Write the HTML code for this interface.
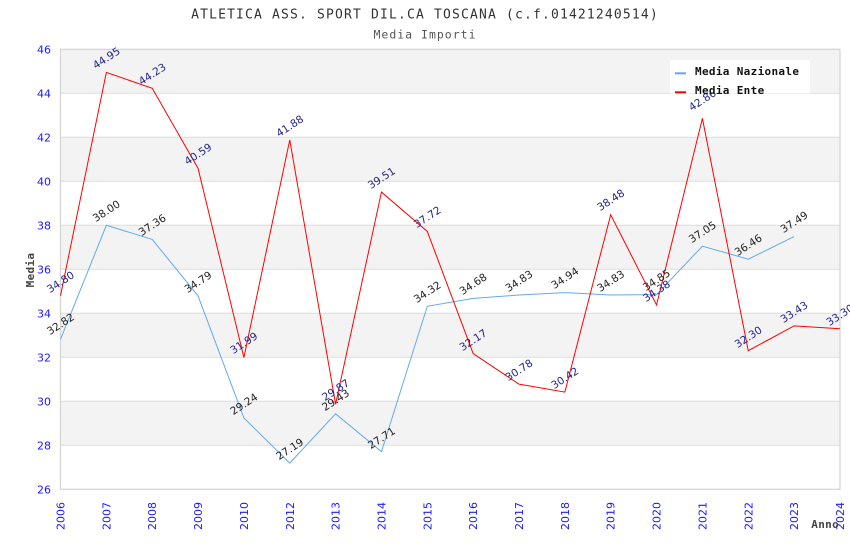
<!DOCTYPE html>
<html><head><meta charset="utf-8"><style>
html,body{margin:0;padding:0;background:#fff;}
svg{display:block;}
.t{font-family:"DejaVu Sans","Liberation Sans",sans-serif;font-size:11px;fill:#1a1aff;}
.m{font-family:"DejaVu Sans Mono","Liberation Mono",monospace;}
.ln{font-family:"DejaVu Sans","Liberation Sans",sans-serif;font-size:10.5px;}
</style></head><body>
<svg width="850" height="550" viewBox="0 0 850 550" xmlns="http://www.w3.org/2000/svg">
<rect x="0" y="0" width="850" height="550" fill="#fff"/>
<text class="m" x="425" y="18.5" text-anchor="middle" font-size="13" letter-spacing="1.17" fill="#333">ATLETICA ASS. SPORT DIL.CA TOSCANA (c.f.01421240514)</text>
<text class="m" x="425" y="38.5" text-anchor="middle" font-size="11.5" letter-spacing="1" fill="#555">Media Importi</text>
<!-- bands -->
<g fill="#f3f3f3">
<rect x="60.5" y="49.3" width="779.5" height="44"/>
<rect x="60.5" y="137.3" width="779.5" height="44"/>
<rect x="60.5" y="225.3" width="779.5" height="44"/>
<rect x="60.5" y="313.3" width="779.5" height="44"/>
<rect x="60.5" y="401.3" width="779.5" height="44"/>
</g>
<g stroke="#dddddd" stroke-width="1">
<line x1="60.5" x2="840" y1="93.3" y2="93.3"/>
<line x1="60.5" x2="840" y1="137.3" y2="137.3"/>
<line x1="60.5" x2="840" y1="181.3" y2="181.3"/>
<line x1="60.5" x2="840" y1="225.3" y2="225.3"/>
<line x1="60.5" x2="840" y1="269.3" y2="269.3"/>
<line x1="60.5" x2="840" y1="313.3" y2="313.3"/>
<line x1="60.5" x2="840" y1="357.3" y2="357.3"/>
<line x1="60.5" x2="840" y1="401.3" y2="401.3"/>
<line x1="60.5" x2="840" y1="445.3" y2="445.3"/>
</g>
<rect x="60.5" y="49.3" width="779.5" height="440" fill="none" stroke="#d4d4d4" stroke-width="1.2"/>
<!-- y ticks -->
<g class="t" text-anchor="end">
<text x="51" y="53.3">46</text>
<text x="51" y="97.3">44</text>
<text x="51" y="141.3">42</text>
<text x="51" y="185.3">40</text>
<text x="51" y="229.3">38</text>
<text x="51" y="273.3">36</text>
<text x="51" y="317.3">34</text>
<text x="51" y="361.3">32</text>
<text x="51" y="405.3">30</text>
<text x="51" y="449.3">28</text>
<text x="51" y="493.3">26</text>
</g>
<!-- x ticks -->
<g class="t" text-anchor="end">
<text transform="translate(64.5,502) rotate(-90)">2006</text>
<text transform="translate(110.35,502) rotate(-90)">2007</text>
<text transform="translate(156.2,502) rotate(-90)">2008</text>
<text transform="translate(202.05,502) rotate(-90)">2009</text>
<text transform="translate(247.9,502) rotate(-90)">2010</text>
<text transform="translate(293.75,502) rotate(-90)">2012</text>
<text transform="translate(339.6,502) rotate(-90)">2013</text>
<text transform="translate(385.45,502) rotate(-90)">2014</text>
<text transform="translate(431.3,502) rotate(-90)">2015</text>
<text transform="translate(477.15,502) rotate(-90)">2016</text>
<text transform="translate(523,502) rotate(-90)">2017</text>
<text transform="translate(568.85,502) rotate(-90)">2018</text>
<text transform="translate(614.7,502) rotate(-90)">2019</text>
<text transform="translate(660.55,502) rotate(-90)">2020</text>
<text transform="translate(706.4,502) rotate(-90)">2021</text>
<text transform="translate(752.25,502) rotate(-90)">2022</text>
<text transform="translate(798.1,502) rotate(-90)">2023</text>
<text transform="translate(843.95,502) rotate(-90)">2024</text>
</g>
<text class="m" x="839" y="528" text-anchor="end" font-size="11" font-weight="bold" letter-spacing="0.3" fill="#444">Anno</text>
<text class="m" transform="translate(34,270) rotate(-90)" text-anchor="middle" font-size="11" font-weight="bold" letter-spacing="0.3" fill="#444">Media</text>
<!-- series -->
<polyline fill="none" stroke="#62aaf0" stroke-width="1" points="60.5,339.26 106.35,225.3 152.2,239.38 198.05,295.92 243.9,418.02 289.75,463.12 335.6,413.84 381.45,451.68 427.3,306.26 473.15,298.34 519,295.04 564.85,292.62 610.7,295.04 656.55,294.6 702.4,246.2 748.25,259.18 794.1,236.52"/>
<polyline fill="none" stroke="#ff0000" stroke-width="1" points="60.5,295.7 106.35,72.4 152.2,88.24 198.05,168.32 243.9,357.52 289.75,139.94 335.6,404.16 381.45,192.08 427.3,231.46 473.15,353.56 519,384.14 564.85,392.06 610.7,214.74 656.55,304.94 702.4,118.38 748.25,350.7 794.1,325.84 839.95,328.7"/>
<!-- labels Nazionale -->
<g class="ln" fill="#222" text-anchor="middle">
<text transform="translate(60.5,324) rotate(-33)" dy="0.35em">32.82</text>
<text transform="translate(106.35,211) rotate(-33)" dy="0.35em">38.00</text>
<text transform="translate(152.2,225) rotate(-33)" dy="0.35em">37.36</text>
<text transform="translate(198.05,282) rotate(-33)" dy="0.35em">34.79</text>
<text transform="translate(243.9,404) rotate(-33)" dy="0.35em">29.24</text>
<text transform="translate(289.75,449) rotate(-33)" dy="0.35em">27.19</text>
<text transform="translate(335.6,400) rotate(-33)" dy="0.35em">29.43</text>
<text transform="translate(381.45,438) rotate(-33)" dy="0.35em">27.71</text>
<text transform="translate(427.3,292) rotate(-33)" dy="0.35em">34.32</text>
<text transform="translate(473.15,284) rotate(-33)" dy="0.35em">34.68</text>
<text transform="translate(519,281) rotate(-33)" dy="0.35em">34.83</text>
<text transform="translate(564.85,278) rotate(-33)" dy="0.35em">34.94</text>
<text transform="translate(610.7,281) rotate(-33)" dy="0.35em">34.83</text>
<text transform="translate(656.55,280) rotate(-33)" dy="0.35em">34.85</text>
<text transform="translate(702.4,232) rotate(-33)" dy="0.35em">37.05</text>
<text transform="translate(748.25,245) rotate(-33)" dy="0.35em">36.46</text>
<text transform="translate(794.1,222) rotate(-33)" dy="0.35em">37.49</text>
</g>
<!-- labels Ente -->
<g class="ln" fill="#24248c" text-anchor="middle">
<text transform="translate(60.5,282) rotate(-33)" dy="0.35em">34.80</text>
<text transform="translate(106.35,58) rotate(-33)" dy="0.35em">44.95</text>
<text transform="translate(152.2,74) rotate(-33)" dy="0.35em">44.23</text>
<text transform="translate(198.05,154) rotate(-33)" dy="0.35em">40.59</text>
<text transform="translate(243.9,343) rotate(-33)" dy="0.35em">31.99</text>
<text transform="translate(289.75,126) rotate(-33)" dy="0.35em">41.88</text>
<text transform="translate(335.6,390) rotate(-33)" dy="0.35em">29.87</text>
<text transform="translate(381.45,178) rotate(-33)" dy="0.35em">39.51</text>
<text transform="translate(427.3,217) rotate(-33)" dy="0.35em">37.72</text>
<text transform="translate(473.15,340) rotate(-33)" dy="0.35em">32.17</text>
<text transform="translate(519,370) rotate(-33)" dy="0.35em">30.78</text>
<text transform="translate(564.85,378) rotate(-33)" dy="0.35em">30.42</text>
<text transform="translate(610.7,200) rotate(-33)" dy="0.35em">38.48</text>
<text transform="translate(656.55,291) rotate(-33)" dy="0.35em">34.38</text>
<text transform="translate(702.4,100) rotate(-33)" dy="0.35em">42.86</text>
<text transform="translate(748.25,337) rotate(-33)" dy="0.35em">32.30</text>
<text transform="translate(794.1,312) rotate(-33)" dy="0.35em">33.43</text>
<text transform="translate(839.95,315) rotate(-33)" dy="0.35em">33.30</text>
</g>
<!-- legend -->
<rect x="670" y="60" width="140" height="33.3" fill="#fff"/>
<rect x="675" y="72.3" width="11" height="2" fill="#62aaf0"/>
<rect x="675" y="91.3" width="11" height="2" fill="#ff0000"/>
<g class="m" font-size="11" font-weight="bold" letter-spacing="0.33" fill="#111">
<text x="695" y="75">Media Nazionale</text>
<text x="695" y="94">Media Ente</text>
</g>
</svg>
</body></html>
